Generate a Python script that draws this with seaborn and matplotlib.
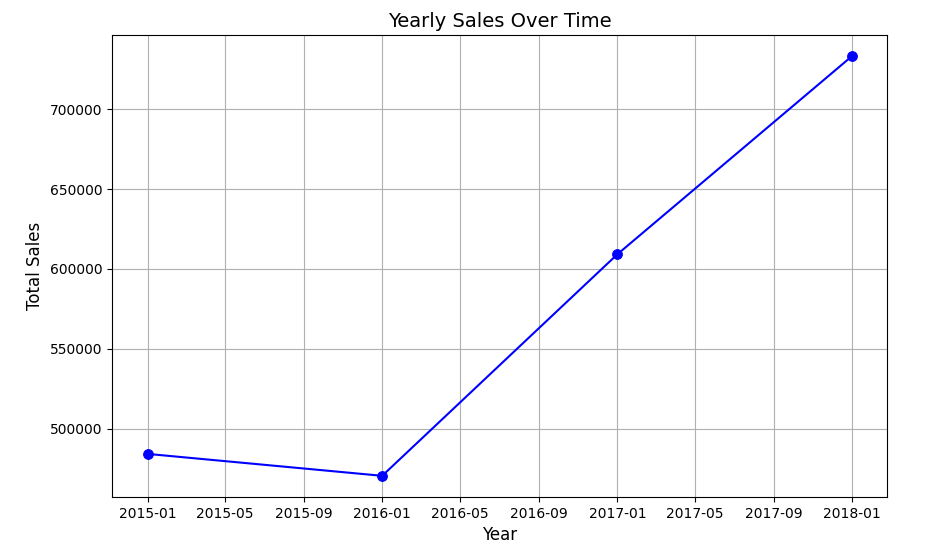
"""Yearly sales line chart."""

import matplotlib

matplotlib.use("Agg")
import matplotlib.dates as mdates
import matplotlib.pyplot as plt
import pandas as pd
import seaborn as sns

years = ["2015-01-01", "2016-01-01", "2017-01-01", "2018-01-01"]
total_sales = [484247.5, 470532.5, 609205.6, 733215.3]


def main():
    df = pd.DataFrame({"Year": pd.to_datetime(years), "Total Sales": total_sales})

    fig, ax = plt.subplots(figsize=(9.52, 5.4), dpi=100)
    sns.lineplot(data=df, x="Year", y="Total Sales", marker="o", color="blue",
                 markersize=7, markeredgecolor="blue", linewidth=1.5, ax=ax)
    ax.xaxis.set_major_locator(mdates.MonthLocator(bymonth=[1, 5, 9]))
    ax.xaxis.set_major_formatter(mdates.DateFormatter("%Y-%m"))
    ax.grid(True, color="#b0b0b0", linewidth=0.8)
    ax.set_title("Yearly Sales Over Time", fontsize=14)
    ax.set_xlabel("Year", fontsize=12)
    ax.set_ylabel("Total Sales", fontsize=12)
    fig.subplots_adjust(left=0.118, right=0.932, top=0.935, bottom=0.08)
    fig.savefig("out.png", dpi=100)
    plt.close(fig)


if __name__ == "__main__":
    main()
